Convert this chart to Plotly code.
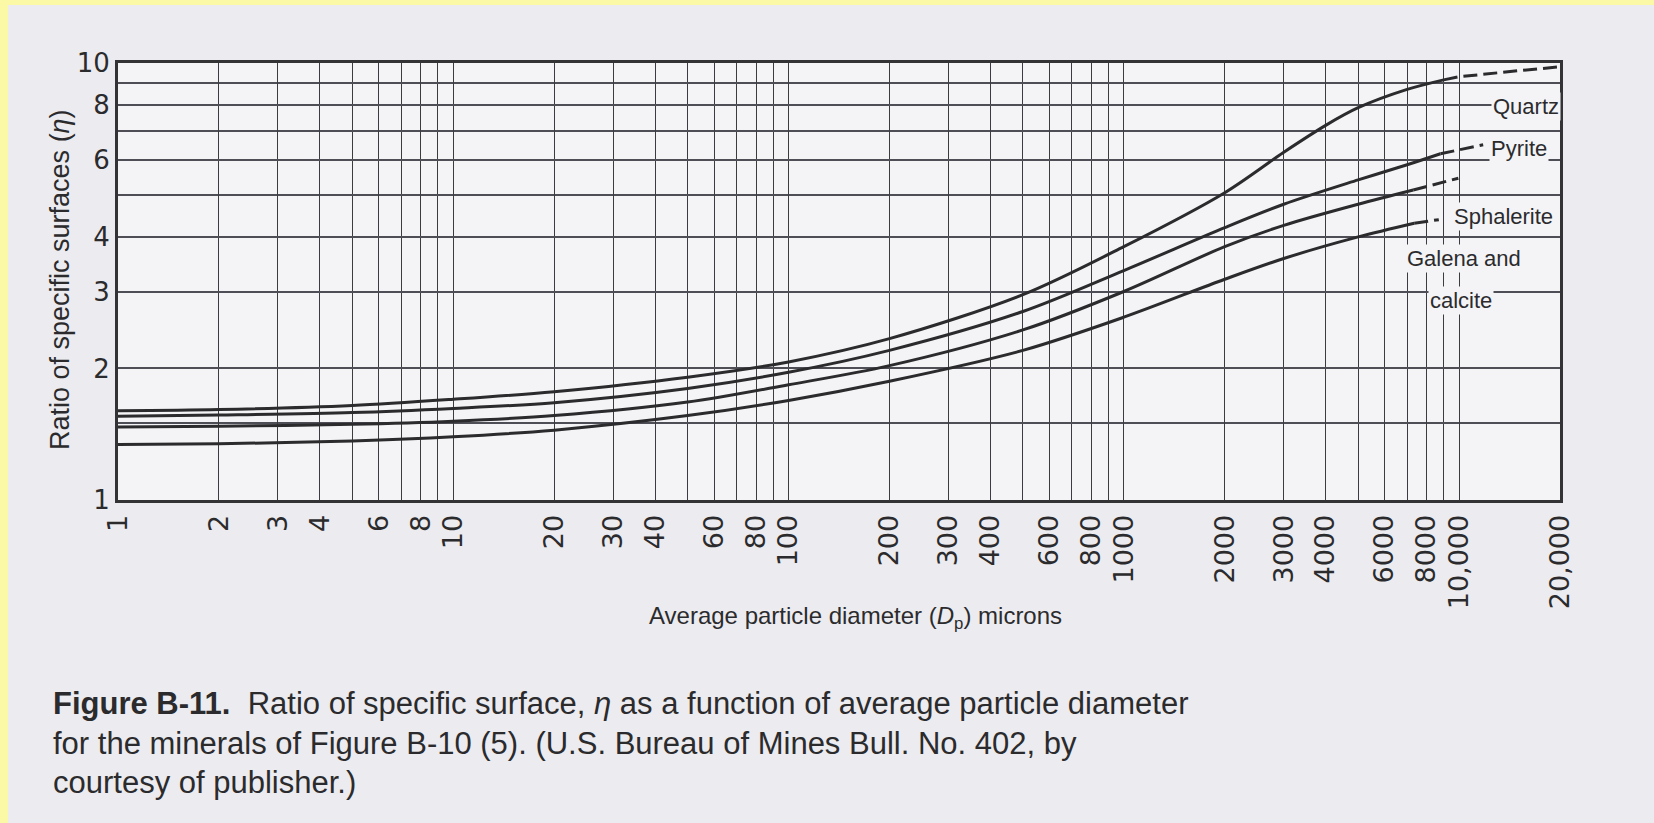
import plotly.graph_objects as go

# ---------------- data ----------------
# Average particle diameter Dp (microns) and ratio of specific surfaces (eta)
quartz_d = [1, 2, 5, 10, 20, 50, 100, 200, 500, 1000, 2000, 3000, 4000, 5000, 7000, 9000]
quartz_eta = [1.6, 1.61, 1.645, 1.70, 1.77, 1.91, 2.07, 2.34, 2.95, 3.8, 5.05, 6.25, 7.2, 7.9, 8.7, 9.15]
quartz_dash_d = [9000, 10000, 15000, 20000]
quartz_dash_eta = [9.15, 9.3, 9.6, 9.8]

pyrite_d = [1, 2, 5, 10, 20, 50, 100, 200, 500, 1000, 2000, 3000, 5000, 7000, 8800]
pyrite_eta = [1.555, 1.565, 1.585, 1.62, 1.67, 1.80, 1.96, 2.2, 2.7, 3.35, 4.2, 4.75, 5.4, 5.85, 6.2]
pyrite_dash_d = [8800, 11800]
pyrite_dash_eta = [6.2, 6.5]

sphalerite_d = [1, 2, 5, 10, 20, 50, 100, 200, 500, 1000, 2000, 3000, 5000, 7300]
sphalerite_eta = [1.47, 1.475, 1.49, 1.515, 1.56, 1.675, 1.835, 2.03, 2.45, 3.0, 3.8, 4.25, 4.75, 5.12]
sphalerite_dash_d = [7300, 9950]
sphalerite_dash_eta = [5.12, 5.45]

galena_d = [1, 2, 5, 10, 20, 50, 100, 200, 500, 1000, 2000, 3000, 5000, 7350]
galena_eta = [1.34, 1.345, 1.365, 1.395, 1.445, 1.56, 1.69, 1.87, 2.2, 2.62, 3.2, 3.57, 4.0, 4.3]
galena_dash_d = [7350, 8700]
galena_dash_eta = [4.3, 4.38]

curve_names = ["Quartz", "Pyrite", "Sphalerite", "Galena and calcite"]

# axis ticks / grid
x_tick_vals = [1, 2, 3, 4, 6, 8, 10, 20, 30, 40, 60, 80, 100, 200, 300, 400, 600, 800,
               1000, 2000, 3000, 4000, 6000, 8000, 10000, 20000]
x_tick_text = ["1", "2", "3", "4", "6", "8", "10", "20", "30", "40", "60", "80", "100",
               "200", "300", "400", "600", "800", "1000", "2000", "3000", "4000", "6000",
               "8000", "10,000", "20,000"]
x_grid_unlabeled = [5, 7, 9, 50, 70, 90, 500, 700, 900, 5000, 7000, 9000]

y_tick_vals = [1, 2, 3, 4, 6, 8, 10]
y_tick_text = ["1", "2", "3", "4", "6", "8", "10"]
y_grid_unlabeled = [1.5, 5, 7, 9]

# ---------------- figure ----------------
W, H = 1654, 823
L, R, T, B = 118, 1560, 63, 500          # plot area in page pixels
PW, PH = R - L, B - T

def px(x, y):
    """page pixel -> paper coordinates"""
    return (x - L) / PW, (B - y) / PH

page_bg = "#ecebef"
plot_bg = "#f4f4f6"
ink = "#2b2b2e"

fig = go.Figure()

solid = [(quartz_d, quartz_eta), (pyrite_d, pyrite_eta),
         (sphalerite_d, sphalerite_eta), (galena_d, galena_eta)]
dashed = [(quartz_dash_d, quartz_dash_eta), (pyrite_dash_d, pyrite_dash_eta),
          (sphalerite_dash_d, sphalerite_dash_eta), (galena_dash_d, galena_dash_eta)]

for name, (d, e) in zip(curve_names, solid):
    fig.add_trace(go.Scatter(x=d, y=e, mode="lines", name=name,
                             line=dict(color=ink, width=3, shape="spline", smoothing=0.9),
                             showlegend=False))
for name, (d, e) in zip(curve_names, dashed):
    fig.add_trace(go.Scatter(x=d, y=e, mode="lines", name=name + " (extrapolated)",
                             line=dict(color=ink, width=3, dash="14px,6px"),
                             showlegend=False))

fig.update_xaxes(type="log", range=[0, 4.30103], tickmode="array",
                 tickvals=x_tick_vals, ticktext=x_tick_text,
                 tickangle=-90, ticks="", ticklabelstandoff=1,
                 showgrid=True, gridcolor="#3c3c40", gridwidth=1.4,
                 minor=dict(tickvals=x_grid_unlabeled, showgrid=True, gridcolor="#3c3c40",
                            gridwidth=1.4, ticks=""),
                 showline=True, linecolor="#333336", linewidth=3, mirror=True,
                 tickfont=dict(family="DejaVu Sans", size=27, color=ink), zeroline=False)
fig.update_yaxes(type="log", range=[0, 1], tickmode="array",
                 tickvals=y_tick_vals, ticktext=y_tick_text,
                 ticks="", showgrid=True, gridcolor="#4e4e56", gridwidth=1.6,
                 minor=dict(tickvals=y_grid_unlabeled, showgrid=True, gridcolor="#4e4e56",
                            gridwidth=1.6, ticks=""),
                 showline=True, linecolor="#333336", linewidth=3, mirror=True,
                 tickfont=dict(family="DejaVu Sans", size=26, color=ink), zeroline=False)

ann = []
def add_text(text, x, y, size, anchor="center", angle=0, bg=None, family="Liberation Sans"):
    ax, ay = px(x, y)
    a = dict(text=text, x=ax, y=ay, xref="paper", yref="paper", showarrow=False,
             xanchor=anchor, yanchor="middle", textangle=angle,
             font=dict(family=family, size=size, color=ink))
    if bg:
        a["bgcolor"] = bg
        a["borderpad"] = 1
    ann.append(a)

# curve labels
add_text("Quartz", 1526, 106, 22, bg=plot_bg)
add_text("Pyrite", 1519, 148, 22, bg=plot_bg)
add_text("Sphalerite", 1503, 216, 22, bg=plot_bg)
add_text("Galena and", 1464, 258, 22, bg=plot_bg)
add_text("calcite", 1461, 300, 22, bg=plot_bg)

# axis titles
add_text("Average particle diameter (<i>D</i><sub>p</sub>) microns", 855, 617, 24)
add_text("Ratio of specific surfaces (<i>η</i>)", 60, 280, 27, angle=-90)

# caption
add_text("<b>Figure B-11.</b>  Ratio of specific surface, <i>η</i> as a function of average particle diameter",
         51, 703, 31, anchor="left")
add_text("for the minerals of Figure B-10 (5). (U.S. Bureau of Mines Bull. No. 402, by",
         51, 743, 31, anchor="left")
add_text("courtesy of publisher.)", 51, 782, 31, anchor="left")

# yellow scan border strips
x0, _ = px(0, 0)
x8, _ = px(8, 0)
xr, _ = px(W, 0)
_, ytop = px(0, 0)
_, y5 = px(0, 5)
_, ybot = px(0, H)
shapes = [
    dict(type="rect", xref="paper", yref="paper", x0=x0, x1=x8, y0=ybot, y1=ytop,
         fillcolor="#fbf9a6", line=dict(width=0), layer="below"),
    dict(type="rect", xref="paper", yref="paper", x0=x0, x1=xr, y0=y5, y1=ytop,
         fillcolor="#fbf9a6", line=dict(width=0), layer="below"),
]

fig.update_layout(width=W, height=H, margin=dict(l=L, r=W - R, t=T, b=H - B, pad=0),
                  paper_bgcolor=page_bg, plot_bgcolor=plot_bg,
                  annotations=ann, shapes=shapes, showlegend=False)

fig.write_html("out.html", config={"displayModeBar": False},
               post_script="document.body.style.margin='0';")
